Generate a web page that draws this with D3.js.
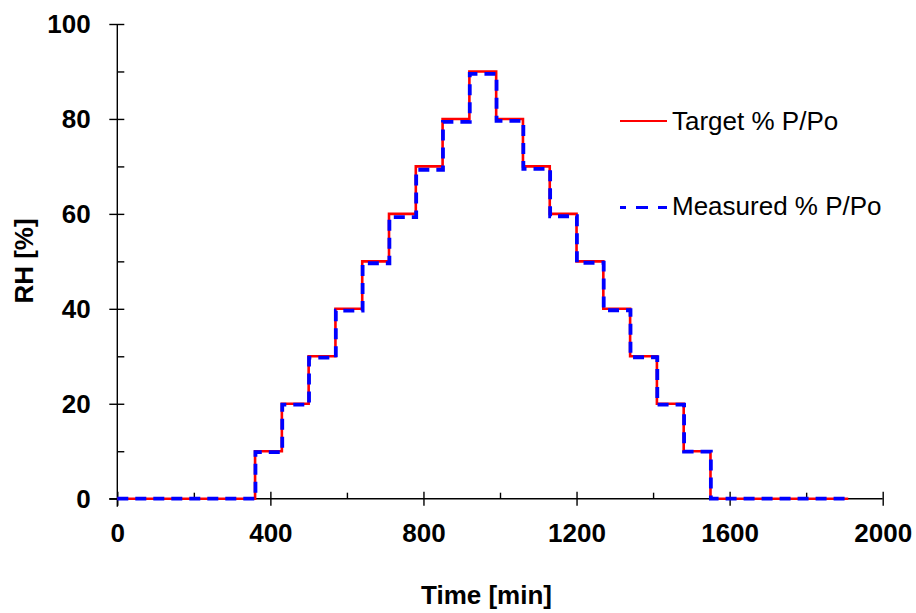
<!DOCTYPE html>
<html>
<head>
<meta charset="utf-8">
<script src="https://cdn.jsdelivr.net/npm/d3@7"></script>
<style>
  html, body { margin: 0; padding: 0; background: #fff; }
  svg { display: block; }
  text { font-family: "Liberation Sans", Arial, sans-serif; fill: #000; }
</style>
</head>
<body>
<svg id="chart" width="916" height="613"></svg>
<script>
// ---- data ----
const stepTimes = [0, 360, 430, 500, 570, 640, 710, 780, 850, 920, 990, 1060, 1130, 1200, 1270, 1340, 1410, 1480, 1550, 1910];
const targetRH = [0, 10, 20, 30, 40, 50, 60, 70, 80, 90, 80, 70, 60, 50, 40, 30, 20, 10, 0, 0];
const measuredTimes = [0, 361, 431, 501, 571, 641, 711, 781, 851, 921, 991, 1061, 1131, 1201, 1271, 1341, 1411, 1481, 1551, 1910];
const measuredRH = [0, 9.8, 19.8, 29.7, 39.6, 49.6, 59.3, 69.3, 79.4, 89.5, 79.6, 69.5, 59.5, 49.7, 39.7, 29.8, 19.8, 9.9, 0, 0];
const xMajorTicks = [0, 400, 800, 1200, 1600, 2000];
const xMinorTicks = [200, 600, 1000, 1400, 1800];
const yMajorTicks = [0, 20, 40, 60, 80, 100];
const yMinorTicks = [10, 30, 50, 70, 90];
const seriesNames = ["Target % P/Po", "Measured % P/Po"];
const xTitle = "Time [min]";
const yTitle = "RH [%]";

// ---- layout ----
const svg = d3.select("#chart");
const x = d3.scaleLinear().domain([0, 2000]).range([117.3, 882.7]);
const y = d3.scaleLinear().domain([0, 100]).range([498.7, 24]);
const FS = 26;

const target = stepTimes.map((t, i) => [t, targetRH[i]]);
const measured = measuredTimes.map((t, i) => [t, measuredRH[i]]);

// axes lines
svg.append("line")
  .attr("x1", x(0) - 8).attr("x2", x(2000))
  .attr("y1", y(0)).attr("y2", y(0))
  .attr("stroke", "#000").attr("stroke-width", 1.4);
svg.append("line")
  .attr("x1", x(0)).attr("x2", x(0))
  .attr("y1", y(100)).attr("y2", y(0) + 8)
  .attr("stroke", "#000").attr("stroke-width", 1.4);

// x axis major
const gx = svg.append("g").attr("transform", `translate(0,${y(0)})`)
  .call(d3.axisBottom(x).tickValues(xMajorTicks).tickSize(7).tickFormat(d3.format("d")));
gx.select(".domain").remove();
gx.selectAll(".tick line").attr("y1", -7).attr("stroke-width", 1.4);
gx.selectAll(".tick text").attr("y", 43).attr("dy", 0)
  .style("font-size", FS + "px").style("font-weight", "bold")
  .style("font-family", '"Liberation Sans", Arial, sans-serif');

// x axis minor
const gxm = svg.append("g").attr("transform", `translate(0,${y(0)})`)
  .call(d3.axisBottom(x).tickValues(xMinorTicks).tickSize(-6).tickFormat(""));
gxm.select(".domain").remove();
gxm.selectAll(".tick line").attr("stroke-width", 1.4);

// y axis major
const gy = svg.append("g").attr("transform", `translate(${x(0)},0)`)
  .call(d3.axisLeft(y).tickValues(yMajorTicks).tickSize(8).tickFormat(d3.format("d")));
gy.select(".domain").remove();
gy.selectAll(".tick line").attr("x2", 7).attr("x1", -8).attr("stroke-width", 1.4);
gy.selectAll(".tick text").attr("x", -26.6).attr("dy", "0.34em")
  .style("font-size", FS + "px").style("font-weight", "bold")
  .style("font-family", '"Liberation Sans", Arial, sans-serif');

// y axis minor
const gym = svg.append("g").attr("transform", `translate(${x(0)},0)`)
  .call(d3.axisLeft(y).tickValues(yMinorTicks).tickSize(-7).tickFormat(""));
gym.select(".domain").remove();
gym.selectAll(".tick line").attr("stroke-width", 1.4);

// titles
svg.append("text")
  .attr("x", 486.5).attr("y", 604)
  .attr("text-anchor", "middle")
  .style("font-size", "26px").style("font-weight", "bold")
  .text(xTitle);
svg.append("text")
  .attr("transform", "translate(33,261) rotate(-90)")
  .attr("text-anchor", "middle")
  .style("font-size", "26px").style("font-weight", "bold")
  .text(yTitle);

// series
const line = d3.line().x(d => x(d[0])).y(d => y(d[1])).curve(d3.curveStepAfter);
svg.append("path").datum(target)
  .attr("d", line).attr("fill", "none")
  .attr("stroke", "#ff0000").attr("stroke-width", 2.6);
svg.append("path").datum(measured)
  .attr("d", line).attr("fill", "none")
  .attr("stroke", "#0000ff").attr("stroke-width", 3.8)
  .attr("stroke-dasharray", "11,7");

// legend
const leg = svg.append("g");
leg.append("line").attr("x1", 620).attr("x2", 667).attr("y1", 121).attr("y2", 121)
  .attr("stroke", "#ff0000").attr("stroke-width", 2);
leg.append("text").attr("x", 672).attr("y", 129.5)
  .style("font-size", FS + "px").text(seriesNames[0]);
leg.append("line").attr("x1", 620).attr("x2", 667).attr("y1", 207.5).attr("y2", 207.5)
  .attr("stroke", "#0000ff").attr("stroke-width", 3)
  .attr("stroke-dasharray", "12,10").attr("stroke-dashoffset", 6);
leg.append("text").attr("x", 672).attr("y", 215)
  .style("font-size", FS + "px").text(seriesNames[1]);
</script>
</body>
</html>
